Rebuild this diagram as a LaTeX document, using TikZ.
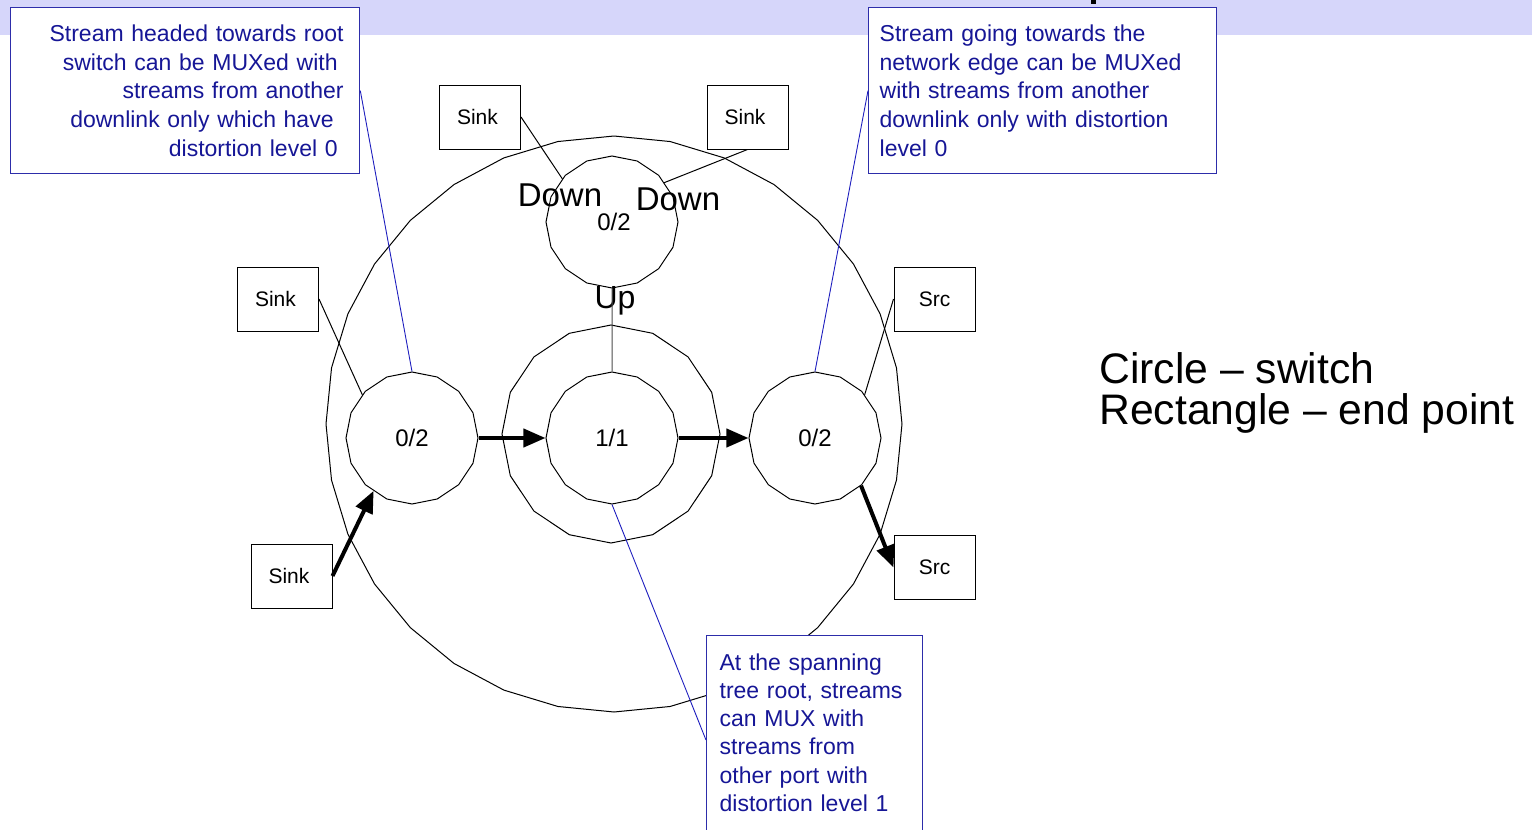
\documentclass[tikz,border=0pt]{standalone}
\usepackage{fontspec}
\setmainfont{Liberation Sans}
\usetikzlibrary{shapes.geometric,arrows.meta,calc}
\definecolor{band}{RGB}{214,214,250}
\definecolor{calltext}{RGB}{22,22,150}
\definecolor{callline}{RGB}{45,45,170}
\definecolor{leader}{RGB}{30,30,190}
\begin{document}
\begin{tikzpicture}[x=1pt,y=-1pt,
  switch/.style={draw, line width=1pt, regular polygon, regular polygon sides=16,
    regular polygon rotate=11.25, minimum size=132pt, inner sep=0pt,
    font=\fontsize{24}{28}\selectfont},
  bigring/.style={draw, line width=1pt, regular polygon, regular polygon sides=32,
    regular polygon rotate=5.625, minimum size=576pt, inner sep=0pt},
  endpt/.style={draw, line width=1pt, rectangle, minimum width=81pt,
    minimum height=64pt, inner sep=0pt, font=\fontsize{21}{25}\selectfont},
  callout/.style={draw=callline, line width=1.3pt, fill=white, text=calltext,
    font=\fontsize{23}{28.7}\selectfont, inner sep=0pt},
  leaderline/.style={draw=leader, line width=0.9pt},
  wire/.style={draw, line width=1pt},
  bigarrow/.style={draw, line width=4pt, -{Triangle[length=22pt,width=18pt]}},
  port/.style={font=\fontsize{33}{38}\selectfont, inner sep=0pt},
]
\useasboundingbox (0,0) rectangle (1532,830);
\fill[band] (0,0) rectangle (1532,35);
\fill[black] (1091,0) rectangle (1096,4);

% outer region and ring
\node[bigring] (big) at (614,424) {};
\node[switch, minimum size=218pt] (ring) at (611,434) {};

% switches
\node[switch] (ts) at (612,222) {\hspace*{4pt}0/2};
\node[switch] (left) at (412,438) {0/2};
\node[switch] (mid) at (612,438) {1/1};
\node[switch] (right) at (815,438) {0/2};

% end points
\node[endpt] (sinkTL) at (480,117) {Sink\hspace*{5pt}};
\node[endpt] (sinkTR) at (747.5,117) {Sink\hspace*{5pt}};
\node[endpt] (sinkL) at (278,299) {Sink\hspace*{5pt}};
\node[endpt] (sinkBL) at (291.5,576) {Sink\hspace*{5pt}};
\node[endpt] (srcT) at (934.5,299) {Src};
\node[endpt] (srcB) at (934.5,567.5) {Src};

% port labels
\node[port] (dl) at (560,195) {Down};
\node[port] (dr) at (678,199) {Down};
\node[port, font=\fontsize{32}{36}\selectfont] (up) at (615,301) {Up};

% connectors
\draw[wire] (sinkTL.east) -- (ts.139);
\draw[wire] (sinkTR.south) -- (ts.37);
\draw[wire] (sinkL.east) -- (left.139);
\draw[wire] (srcT.west) -- (right.41);
\draw[line width=1pt, draw=black!70] (ts.south) -- (mid.north);
\draw[bigarrow] (sinkBL.east) -- (left.234);
\draw[bigarrow] (right.-46) -- (srcB.west);
\draw[bigarrow] (left.east) -- (mid.west);
\draw[bigarrow] (mid.east) -- (right.west);

% callouts
\node[callout, anchor=north west, minimum width=349pt, minimum height=166pt,
  text width=317pt, align=right] (tl) at (10,7)
  {Stream headed towards root\\
   switch can be MUXed with\makebox[6pt]{}\\
   streams from another\\
   downlink only which have\makebox[10pt]{}\\
   distortion level 0\makebox[6pt]{}};
\node[callout, anchor=north west, minimum width=348pt, minimum height=166pt,
  text width=326pt, align=left] (tr) at (868,7)
  {Stream going towards the\\
   network edge can be MUXed\\
   with streams from another\\
   downlink only with distortion\\
   level 0};
\node[callout, anchor=north west, minimum width=216pt, text width=190pt,
  align=left, inner ysep=18pt, font=\fontsize{23}{28.2}\selectfont] (bc) at (706,635)
  {At the spanning\\
   tree root, streams\\
   can MUX with\\
   streams from\\
   other port with\\
   distortion level 1\\[30pt]\mbox{}};
\coordinate (bcpt) at ($(bc.north west)+(0,105)$);

\draw[leaderline] (tl.east) -- (left.north);
\draw[leaderline] (tr.west) -- (right.north);
\draw[leaderline] (mid.south) -- (bcpt);

% legend
\node[anchor=north west, align=left, font=\fontsize{42.7}{41}\selectfont,
  inner sep=0pt] (legend) at (1099,352)
  {Circle – switch\\ Rectangle – end point};
\end{tikzpicture}
\end{document}
